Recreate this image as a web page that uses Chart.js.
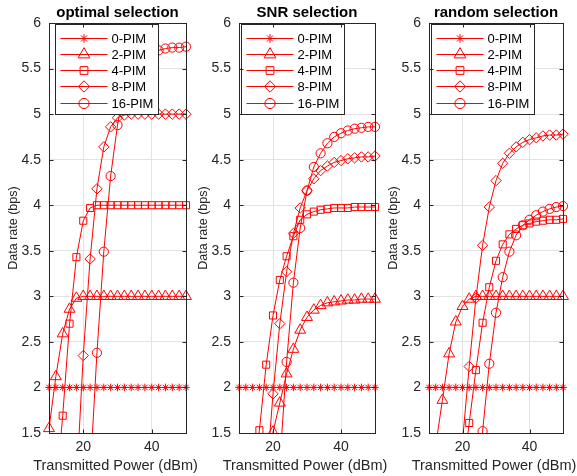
<!DOCTYPE html>
<html>
<head>
<meta charset="utf-8">
<script src="https://cdn.jsdelivr.net/npm/chart.js@4/dist/chart.umd.min.js"></script>
<style>
  body { margin: 0; background: #fff; }
  #wrap { position: relative; width: 577px; height: 476px; }
  canvas { position: absolute; top: 0; left: 0; }
</style>
</head>
<body>
<div id="wrap">
  <canvas id="c1" width="577" height="476"></canvas>
  <canvas id="c2" width="577" height="476"></canvas>
  <canvas id="c3" width="577" height="476"></canvas>
</div>
<script>
// x values (dBm) and tick labels
const power = [10, 12, 14, 16, 18, 20, 22, 24, 26, 28, 30, 32, 34, 36, 38, 40, 42, 44, 46, 48, 50];
const xTicks = [20, 40];
const seriesNames = ["0-PIM", "2-PIM", "4-PIM", "8-PIM", "16-PIM"];
const panelTitles = ["optimal selection", "SNR selection", "random selection"];

// optimal selection
const optimal0 = [2, 2, 2, 2, 2, 2, 2, 2, 2, 2, 2, 2, 2, 2, 2, 2, 2, 2, 2, 2, 2];
const optimal2 = [1.55, 2.12, 2.59, 2.86, 2.98, 3.0, 3.0, 3.0, 3.0, 3.0, 3.0, 3.0, 3.0, 3.0, 3.0, 3.0, 3.0, 3.0, 3.0, 3.0, 3.0];
const optimal4 = [null, 0.8, 1.69, 2.70, 3.43, 3.83, 3.97, 4.0, 4.0, 4.0, 4.0, 4.0, 4.0, 4.0, 4.0, 4.0, 4.0, 4.0, 4.0, 4.0, 4.0];
const optimal8 = [null, null, null, null, 0.93, 2.35, 3.41, 4.18, 4.64, 4.86, 4.96, 4.99, 5.0, 5.0, 5.0, 5.0, 5.0, 5.0, 5.0, 5.0, 5.0];
const optimal16 = [null, null, null, null, null, null, 1.04, 2.38, 3.49, 4.32, 4.88, 5.30, 5.52, 5.62, 5.67, 5.69, 5.70, 5.72, 5.73, 5.73, 5.74];

// SNR selection
const snr0 = [2, 2, 2, 2, 2, 2, 2, 2, 2, 2, 2, 2, 2, 2, 2, 2, 2, 2, 2, 2, 2];
const snr2 = [null, null, null, null, 1.10, 1.51, 1.83, 2.15, 2.42, 2.63, 2.77, 2.85, 2.90, 2.93, 2.94, 2.95, 2.96, 2.96, 2.97, 2.97, 2.97];
const snr4 = [null, null, 0.90, 1.53, 2.25, 2.79, 3.18, 3.44, 3.66, 3.84, 3.90, 3.93, 3.95, 3.96, 3.97, 3.97, 3.97, 3.98, 3.98, 3.98, 3.98];
const snr8 = [null, null, null, null, 0.97, 1.93, 2.70, 3.27, 3.69, 3.97, 4.16, 4.29, 4.38, 4.43, 4.47, 4.49, 4.51, 4.52, 4.53, 4.53, 4.54];
const snr16 = [null, null, null, null, null, null, 1.16, 2.28, 3.15, 3.75, 4.16, 4.42, 4.57, 4.68, 4.75, 4.79, 4.82, 4.84, 4.85, 4.86, 4.86];

// random selection
const random0 = [2, 2, 2, 2, 2, 2, 2, 2, 2, 2, 2, 2, 2, 2, 2, 2, 2, 2, 2, 2, 2];
const random2 = [0.90, 1.36, 1.86, 2.37, 2.72, 2.89, 2.97, 3.0, 3.0, 3.0, 3.0, 3.0, 3.0, 3.0, 3.0, 3.0, 3.0, 3.0, 3.0, 3.0, 3.0];
const random4 = [null, null, null, null, null, 1.00, 1.61, 2.19, 2.71, 3.10, 3.39, 3.57, 3.68, 3.74, 3.78, 3.80, 3.82, 3.83, 3.84, 3.84, 3.85];
const random8 = [null, null, null, null, null, 1.41, 2.23, 2.98, 3.56, 3.98, 4.27, 4.46, 4.57, 4.64, 4.69, 4.72, 4.74, 4.76, 4.77, 4.77, 4.78];
const random16 = [null, null, null, null, null, null, null, 0.90, 1.52, 2.26, 2.82, 3.21, 3.49, 3.67, 3.78, 3.84, 3.89, 3.93, 3.96, 3.98, 3.99];

const markerStyles = ["star", "triangle", "rect", "rectRot", "circle"];
const markerSizes = [3.8, 6.3, 5, 5.2, 4.6];
const RED = "#ff0000";
const AXIS = "#262626";
const FONT = '"Liberation Sans", Arial, sans-serif';

Chart.defaults.font.family = FONT;
Chart.defaults.color = AXIS;

/** Draw a MATLAB-like marker (used in the legend) */
function drawMarker(ctx, style, x, y, r) {
  ctx.beginPath();
  if (style === "star") {
    const d = r * Math.SQRT1_2;
    ctx.moveTo(x - r, y); ctx.lineTo(x + r, y);
    ctx.moveTo(x, y - r); ctx.lineTo(x, y + r);
    ctx.moveTo(x - d, y - d); ctx.lineTo(x + d, y + d);
    ctx.moveTo(x - d, y + d); ctx.lineTo(x + d, y - d);
  } else if (style === "triangle") {
    ctx.moveTo(x, y - r);
    ctx.lineTo(x + r * 0.866, y + r / 2);
    ctx.lineTo(x - r * 0.866, y + r / 2);
    ctx.closePath();
  } else if (style === "rect") {
    const s = r * Math.SQRT1_2;
    ctx.rect(x - s, y - s, 2 * s, 2 * s);
  } else if (style === "rectRot") {
    ctx.moveTo(x, y - r); ctx.lineTo(x + r, y);
    ctx.lineTo(x, y + r); ctx.lineTo(x - r, y);
    ctx.closePath();
  } else {
    ctx.arc(x, y, r, 0, Math.PI * 2);
  }
  ctx.stroke();
}

/** Frame, inner ticks, titles and boxed legend */
const framePlugin = {
  id: "frame",
  afterDatasetsDraw(chart, args, opts) {
    const { ctx, chartArea } = chart;
    const bx = chartArea.left + opts.legendOffset + 0.5;
    const by = chartArea.top + 1.5;
    const bw = 103, bh = 90;
    ctx.save();
    ctx.fillStyle = "#fff";
    ctx.fillRect(bx, by, bw, bh);
    ctx.strokeStyle = AXIS;
    ctx.lineWidth = 1;
    ctx.strokeRect(bx, by, bw, bh);
    ctx.font = "13px " + FONT;
    ctx.textBaseline = "middle";
    ctx.textAlign = "left";
    chart.data.datasets.forEach((ds, i) => {
      const ry = Math.round(by + 13 + i * 16.3) + 0.5;
      ctx.strokeStyle = RED;
      ctx.beginPath();
      ctx.moveTo(bx + 5, ry);
      ctx.lineTo(bx + 52, ry);
      ctx.stroke();
      drawMarker(ctx, markerStyles[i], bx + 28.5, ry, markerSizes[i] + 0.5);
      ctx.fillStyle = "#000";
      ctx.fillText(ds.label, bx + 56, ry + 1);
    });
    ctx.restore();
  },
  afterDraw(chart, args, opts) {
    const { ctx, chartArea, scales } = chart;
    const l = chartArea.left + 0.5, r = chartArea.right + 0.5;
    const t = chartArea.top + 0.5, b = chartArea.bottom + 0.5;
    const cx = (chartArea.left + chartArea.right) / 2;
    ctx.save();
    ctx.strokeStyle = AXIS;
    ctx.lineWidth = 1;
    ctx.strokeRect(l, t, r - l, b - t);
    ctx.beginPath();
    scales.y.ticks.forEach((tk) => {
      const y = Math.round(scales.y.getPixelForValue(tk.value)) + 0.5;
      ctx.moveTo(l, y); ctx.lineTo(l + 4, y);
      ctx.moveTo(r, y); ctx.lineTo(r - 4, y);
    });
    scales.x.ticks.forEach((tk) => {
      const x = Math.round(scales.x.getPixelForValue(tk.value)) + 0.5;
      ctx.moveTo(x, b); ctx.lineTo(x, b - 4);
      ctx.moveTo(x, t); ctx.lineTo(x, t + 4);
    });
    ctx.stroke();
    ctx.textAlign = "center";
    ctx.textBaseline = "middle";
    // panel title
    ctx.fillStyle = "#000";
    ctx.font = "bold 15px " + FONT;
    ctx.fillText(opts.title, cx, 12.5);
    // x-axis label, wider than the plot so drawn without maxWidth
    ctx.fillStyle = AXIS;
    ctx.font = "14.5px " + FONT;
    ctx.fillText(opts.xLabel, cx - 2, 466);
    ctx.restore();
  },
};

function renderPanel(canvasId, title, series, padLeft, padRight, legendOffset) {
  const datasets = series.map((values, i) => ({
    label: seriesNames[i],
    data: power.map((x, k) => ({ x: x, y: values[k] })),
    borderColor: RED,
    backgroundColor: "rgba(0,0,0,0)",
    borderWidth: 1,
    pointStyle: markerStyles[i],
    pointRadius: markerSizes[i],
    pointBorderColor: RED,
    pointBorderWidth: 1,
    pointBackgroundColor: "rgba(0,0,0,0)",
    tension: 0,
    clip: { left: 8, right: 8, top: 8, bottom: 0 },
  }));

  new Chart(document.getElementById(canvasId), {
    type: "line",
    data: { datasets: datasets },
    plugins: [framePlugin],
    options: {
      responsive: false,
      animation: false,
      events: [],
      layout: { padding: { left: padLeft, right: padRight, top: 23, bottom: 0 } },
      plugins: {
        legend: { display: false },
        tooltip: { enabled: false },
        title: { display: false },
        frame: { title: title, legendOffset: legendOffset, xLabel: "Transmitted Power (dBm)" },
      },
      scales: {
        x: {
          type: "linear",
          min: 10,
          max: 50,
          afterBuildTicks: (axis) => {
            axis.ticks = xTicks.map((v) => ({ value: v }));
          },
          afterFit: (scale) => {
            scale.height = 43;
          },
          grid: { color: "#e3e3e3", drawTicks: false },
          border: { display: false },
          ticks: { font: { size: 14 }, color: AXIS, padding: 6, maxRotation: 0 },
        },
        y: {
          min: 1.5,
          max: 6,
          afterFit: (scale) => {
            scale.width = 49;
          },
          grid: { color: "#e3e3e3", drawTicks: false },
          border: { display: false },
          ticks: {
            stepSize: 0.5,
            font: { size: 14 },
            color: AXIS,
            padding: 8,
            callback: (value) => String(value),
          },
          title: {
            display: true,
            text: "Data rate (bps)",
            font: { size: 12.5 },
            color: AXIS,
            padding: { top: 6, bottom: 0 },
          },
        },
      },
    },
  });
}

renderPanel("c1", panelTitles[0], [optimal0, optimal2, optimal4, optimal8, optimal16], 0, 391, 6);
renderPanel("c2", panelTitles[1], [snr0, snr2, snr4, snr8, snr16], 190, 202, 2);
renderPanel("c3", panelTitles[2], [random0, random2, random4, random8, random16], 380, 14, 2);
</script>
</body>
</html>
